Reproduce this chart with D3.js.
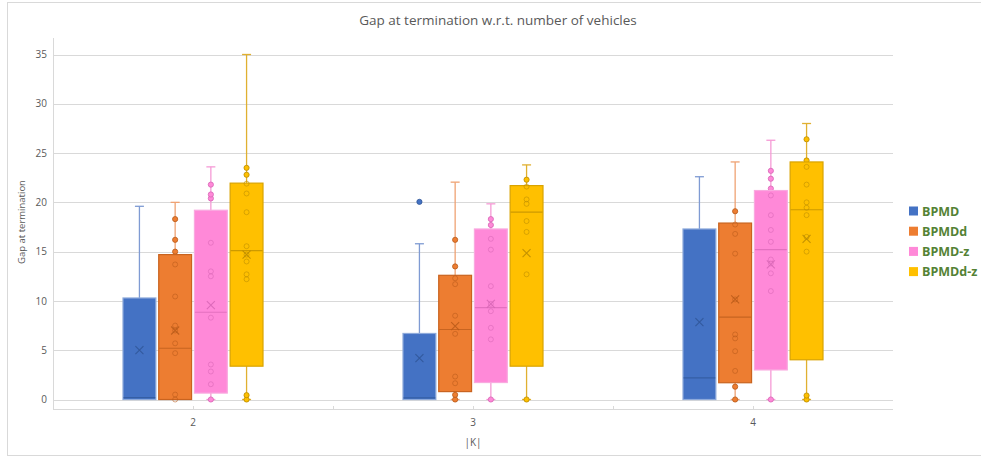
<!DOCTYPE html>
<html>
<head>
<meta charset="utf-8">
<script src="https://cdn.jsdelivr.net/npm/d3@7"></script>
<style>
  html, body { margin: 0; padding: 0; background: #fff; }
  svg { display: block; font-family: "Open Sans", "Liberation Sans", sans-serif; }
</style>
</head>
<body>
<svg id="chart" width="981" height="457"></svg>
<script>
// Number of vehicles |K|
const categories = ["2", "3", "4"];
const seriesNames = ["BPMD", "BPMDd", "BPMD-z", "BPMDd-z"];
const yTicks = [0, 5, 10, 15, 20, 25, 30, 35];

// Box summaries per category: [whisker low, Q1, median, Q3, whisker high]
const bpmdBox = [[0, 0, 0.2, 10.3, 19.6], [0, 0, 0.17, 6.7, 15.8], [0, 0, 2.2, 17.3, 22.6]];
const bpmddBox = [[0, 0, 5.2, 14.7, 20.0], [0, 0.8, 7.1, 12.6, 22.05], [0, 1.7, 8.35, 17.9, 24.1]];
const bpmdzBox = [[0, 0.65, 8.85, 19.2, 23.6], [0, 1.72, 9.33, 17.3, 19.85], [0, 3.0, 15.2, 21.2, 26.3]];
const bpmddzBox = [[0, 3.38, 15.1, 21.95, 35], [0, 3.38, 19.0, 21.7, 23.8], [0, 4.03, 19.25, 24.1, 28.0]];

// Means per category
const bpmdMean = [5.0, 4.2, 7.85];
const bpmddMean = [7.0, 7.45, 10.15];
const bpmdzMean = [9.57, 9.7, 13.7];
const bpmddzMean = [14.7, 14.85, 16.3];

// Individual observations drawn as markers
const bpmdPoints = [[], [20.05], []];
const bpmddPoints = [
  [0, 0.5, 4.7, 5.7, 7.0, 7.5, 10.45, 13.7, 15.0, 16.2, 18.3],
  [0, 0.47, 1.65, 2.33, 6.66, 8.5, 11.7, 12.3, 13.5, 16.2],
  [0, 1.3, 2.9, 4.9, 6.2, 6.6, 10.15, 14.8, 16.8, 17.75, 19.1]
];
const bpmdzPoints = [
  [0, 1.55, 2.84, 3.55, 8.3, 12.5, 13.0, 15.9, 20.4, 20.8, 21.8],
  [0, 6.1, 7.27, 8.96, 9.7, 11.5, 15.2, 16.3, 17.7, 18.3],
  [0, 11.0, 12.8, 13.8, 14.2, 16.0, 17.2, 18.7, 20.7, 21.4, 22.4, 23.2]
];
const bpmddzPoints = [
  [0, 0.44, 12.2, 12.7, 14.0, 14.7, 15.55, 19.0, 20.9, 21.9, 22.8, 23.5],
  [0, 12.7, 17.0, 18.1, 19.85, 20.3, 21.6, 22.3],
  [0, 0.4, 15.0, 16.5, 18.7, 19.45, 20.0, 21.8, 23.6, 24.25, 26.4]
];

const series = [
  { name: seriesNames[0], box: bpmdBox, mean: bpmdMean, points: bpmdPoints,
    fill: "#4472C4", edge: "#8EAADB", whisker: "#7F9BD3", dark: "#2F5597" },
  { name: seriesNames[1], box: bpmddBox, mean: bpmddMean, points: bpmddPoints,
    fill: "#ED7D31", edge: "#C9631F", whisker: "#EFA273", dark: "#B85A19" },
  { name: seriesNames[2], box: bpmdzBox, mean: bpmdzMean, points: bpmdzPoints,
    fill: "#FF89D8", edge: "#F9A9DF", whisker: "#F59AD6", dark: "#D765B5" },
  { name: seriesNames[3], box: bpmddzBox, mean: bpmddzMean, points: bpmddzPoints,
    fill: "#FFC000", edge: "#D9A300", whisker: "#E0B030", dark: "#B88A00" }
];

const svg = d3.select("#chart");
const plot = { left: 53, right: 893, top: 54.5, bottom: 399.5, axisY: 409 };

// Outer chart frame
svg.append("rect")
  .attr("x", 7.5).attr("y", 2.5).attr("width", 980).attr("height", 453)
  .attr("fill", "#fff").attr("stroke", "#D9D9D9");

const x = d3.scaleBand().domain(categories).range([plot.left, plot.right]).padding(0);
const y = d3.scaleLinear().domain([0, 35]).range([plot.bottom, plot.top]);
const xs = d3.scaleBand().domain(seriesNames).range([-70, 70]).paddingInner(0.08).paddingOuter(0);
const bw = xs.bandwidth();

// Gridlines
svg.append("g")
  .selectAll("line").data(yTicks).join("line")
  .attr("x1", plot.left).attr("x2", plot.right)
  .attr("y1", d => Math.round(y(d)) + 0.5).attr("y2", d => Math.round(y(d)) + 0.5)
  .attr("stroke", "#D9D9D9").attr("stroke-width", 1);

// Y axis
const yAxis = svg.append("g")
  .attr("transform", `translate(${plot.left - 6},0)`)
  .call(d3.axisLeft(y).tickValues(yTicks).tickSize(0).tickPadding(0));
yAxis.select(".domain").remove();
yAxis.selectAll("text").attr("fill", "#595959").style("font-size", "10px")
  .style("font-family", "'Open Sans', sans-serif");

svg.append("line")
  .attr("x1", plot.left + 0.5).attr("x2", plot.left + 0.5)
  .attr("y1", 38).attr("y2", plot.axisY)
  .attr("stroke", "#D9D9D9");

// X axis baseline with ticks at category centres and boundaries
svg.append("line")
  .attr("x1", plot.left).attr("x2", plot.right)
  .attr("y1", plot.axisY + 0.5).attr("y2", plot.axisY + 0.5)
  .attr("stroke", "#D9D9D9");
const tickXs = [];
categories.forEach((c, i) => {
  tickXs.push(x(c) + x.bandwidth() / 2);
  if (i > 0) tickXs.push(x(c));
});
svg.append("g").selectAll("line").data(tickXs).join("line")
  .attr("x1", d => Math.round(d) + 0.5).attr("x2", d => Math.round(d) + 0.5)
  .attr("y1", plot.axisY - 3).attr("y2", plot.axisY)
  .attr("stroke", "#D9D9D9");

const xAxis = svg.append("g")
  .attr("transform", `translate(0,${plot.axisY})`)
  .call(d3.axisBottom(x).tickSize(0).tickPadding(10));
xAxis.select(".domain").remove();
xAxis.selectAll("text").attr("fill", "#595959").style("font-size", "10px")
  .style("font-family", "'Open Sans', sans-serif");

// Axis titles
svg.append("text")
  .attr("x", x("3") + x.bandwidth() / 2).attr("y", 446)
  .attr("text-anchor", "middle").attr("fill", "#595959")
  .style("font-size", "10px").text("|K|");

svg.append("text")
  .attr("transform", `translate(25,222) rotate(-90)`)
  .attr("text-anchor", "middle").attr("fill", "#595959")
  .style("font-size", "9.5px").text("Gap at termination");

// Title
svg.append("text")
  .attr("x", 498).attr("y", 25)
  .attr("text-anchor", "middle").attr("fill", "#595959")
  .style("font-size", "13.5px").text("Gap at termination w.r.t. number of vehicles");

// Box plots
const boxes = svg.append("g");
series.forEach(s => {
  categories.forEach((c, ci) => {
    const [lo, q1, med, q3, hi] = s.box[ci];
    const cx = x(c) + x.bandwidth() / 2 + xs(s.name) + bw / 2;
    const g = boxes.append("g");
    const capW = 9;

    // Whiskers and caps
    g.append("line").attr("x1", cx).attr("x2", cx).attr("y1", y(q3)).attr("y2", y(hi))
      .attr("stroke", s.whisker).attr("stroke-width", 1.3);
    g.append("line").attr("x1", cx).attr("x2", cx).attr("y1", y(q1)).attr("y2", y(lo))
      .attr("stroke", s.whisker).attr("stroke-width", 1.3);
    g.append("line").attr("x1", cx - capW / 2).attr("x2", cx + capW / 2)
      .attr("y1", y(hi)).attr("y2", y(hi)).attr("stroke", s.whisker).attr("stroke-width", 1.3);
    if (q1 > lo) {
      g.append("line").attr("x1", cx - capW / 2).attr("x2", cx + capW / 2)
        .attr("y1", y(lo)).attr("y2", y(lo)).attr("stroke", s.whisker).attr("stroke-width", 1.3);
    }

    // Points outside the box (filled)
    const outside = s.points[ci].filter(v => v < q1 || v > q3);
    g.selectAll("circle.out").data(outside).join("circle")
      .attr("class", "out")
      .attr("cx", cx).attr("cy", v => y(v)).attr("r", 2.6)
      .attr("fill", s.fill).attr("stroke", s.dark).attr("stroke-width", 0.8);

    // Box
    g.append("rect")
      .attr("x", cx - bw / 2).attr("y", y(q3))
      .attr("width", bw).attr("height", y(q1) - y(q3))
      .attr("fill", s.fill).attr("stroke", s.edge).attr("stroke-width", 1.2);

    // Points inside the box (outlined)
    const inside = s.points[ci].filter(v => v >= q1 && v <= q3);
    g.selectAll("circle.in").data(inside).join("circle")
      .attr("class", "in")
      .attr("cx", cx).attr("cy", v => y(v)).attr("r", 2.5)
      .attr("fill", "none").attr("stroke", s.dark).attr("stroke-opacity", 0.55).attr("stroke-width", 1);

    // Median
    g.append("line").attr("x1", cx - bw / 2 + 0.5).attr("x2", cx + bw / 2 - 0.5)
      .attr("y1", y(med)).attr("y2", y(med))
      .attr("stroke", s.dark).attr("stroke-opacity", 0.7).attr("stroke-width", 1.2);

    // Mean marker
    const m = y(s.mean[ci]), h = 4;
    g.append("path")
      .attr("d", `M${cx - h},${m - h}L${cx + h},${m + h}M${cx - h},${m + h}L${cx + h},${m - h}`)
      .attr("stroke", s.dark).attr("stroke-opacity", 0.85).attr("stroke-width", 1.1).attr("fill", "none");
  });
});

// Legend
const legend = svg.append("g").attr("transform", "translate(909,211)");
series.forEach((s, i) => {
  const row = legend.append("g").attr("transform", `translate(0,${i * 20.2})`);
  row.append("rect").attr("x", 0).attr("y", -4.5).attr("width", 9).attr("height", 9)
    .attr("fill", s.fill);
  row.append("text").attr("x", 13).attr("y", 0).attr("dy", "0.36em")
    .attr("fill", "#548235").style("font-size", "12.5px").style("font-weight", "bold")
    .style("font-family", "'Open Sans', sans-serif")
    .text(s.name);
});
</script>
</body>
</html>
